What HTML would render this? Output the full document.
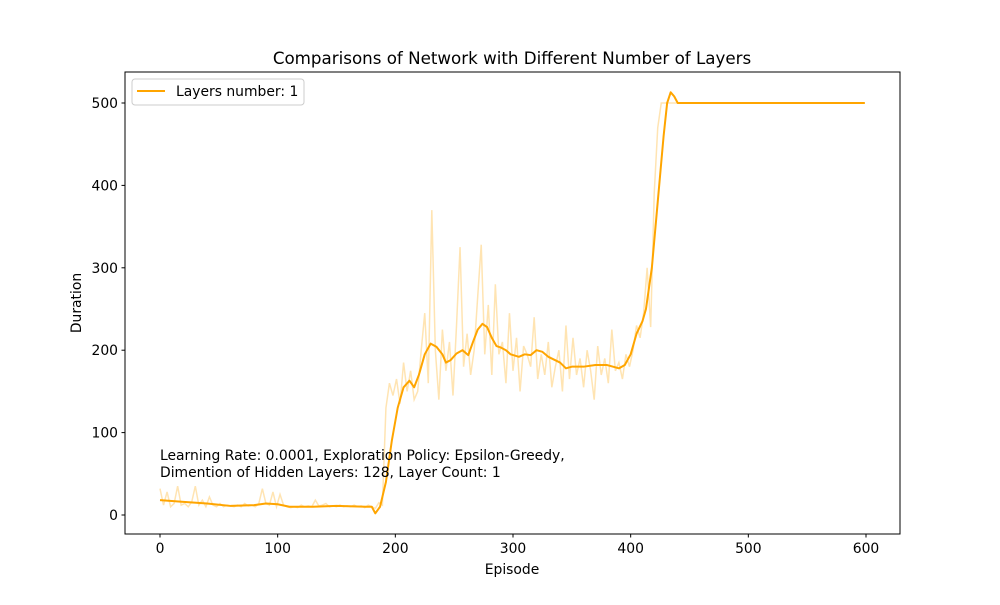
<!DOCTYPE html>
<html><head><meta charset="utf-8"><style>
body{margin:0;background:#fff}
svg text{font-family:"DejaVu Sans","Liberation Sans",sans-serif;fill:#000}
</style></head><body>
<svg id="c" width="1000" height="600" xmlns="http://www.w3.org/2000/svg">
<rect width="1000" height="600" fill="#fff"/>
<text x="512" y="64" font-size="16.7" text-anchor="middle">Comparisons of Network with Different Number of Layers</text>
<g id="plot"></g>
<rect x="125" y="72" width="775" height="462" fill="none" stroke="#000" stroke-width="1"/>
<g id="xt"></g><g id="yt"></g>
<text x="512" y="574" font-size="13.9" text-anchor="middle">Episode</text>
<text transform="translate(81,303) rotate(-90)" font-size="13.9" text-anchor="middle">Duration</text>
<text x="160" y="460" font-size="13.9">Learning Rate: 0.0001, Exploration Policy: Epsilon-Greedy,</text>
<text x="160" y="477" font-size="13.9">Dimention of Hidden Layers: 128, Layer Count: 1</text>
<g>
<rect x="132" y="79" width="172" height="26" rx="3" fill="#fff" fill-opacity="0.8" stroke="#ccc"/>
<line x1="137" y1="91" x2="165" y2="91" stroke="#ffa500" stroke-width="2"/>
<text x="176" y="96" font-size="13.9">Layers number: 1</text>
</g>
</svg>
<script>
const rawEpisodes = [0,3,6,9,12,15,18,21,24,27,30,33,36,39,42,45,48,51,54,57,60,63,66,69,72,75,78,81,84,87,90,93,96,99,102,105,108,111,114,117,120,123,126,129,132,135,138,141,144,147,150,153,156,159,162,165,168,171,174,177,180,183,186,189,192,195,198,201,204,207,210,213,216,219,222,225,228,231,234,237,240,243,246,249,252,255,258,261,264,267,270,273,276,279,282,285,288,291,294,297,300,303,306,309,312,315,318,321,324,327,330,333,336,339,342,345,348,351,354,357,360,363,366,369,372,375,378,381,384,387,390,393,396,399,402,405,408,411,414,417,420,423,426,429,432,435,438,599];
const rawValues = [32,12,28,10,14,35,12,14,10,16,35,12,18,10,22,12,10,14,10,12,11,10,12,10,14,11,12,10,14,32,14,12,28,10,25,12,10,9,10,9,12,10,11,10,18,11,12,14,10,11,10,12,10,11,10,12,10,11,9,12,10,8,15,12,130,160,145,165,135,185,150,175,140,150,200,245,160,370,200,140,225,175,210,145,230,325,180,220,170,200,265,328,195,255,170,280,195,210,160,245,175,215,150,205,195,180,240,165,195,170,210,155,180,200,150,230,165,215,170,190,155,200,175,140,205,170,190,160,225,175,185,165,195,180,200,230,215,245,300,228,390,470,500,500,500,500,500,500];
const smoothEpisodes = [0,20,40,60,80,90,100,110,130,150,175,180,183,187,192,197,202,207,212,216,220,225,230,235,240,243,247,252,257,262,266,270,274,278,282,286,290,294,298,305,310,315,320,325,330,340,345,350,360,370,380,390,395,400,405,410,413,418,423,428,431,434,437,440,599];
const smoothValues = [18,16,14,11,12,14,13,10,10,11,10,10,2,10,40,90,130,155,163,155,170,195,208,204,195,185,188,196,200,194,210,225,232,228,215,205,203,200,195,192,195,194,200,198,192,185,178,180,180,182,182,178,182,195,220,235,250,300,380,460,500,513,508,500,500];
const xTicks = [0,100,200,300,400,500,600];
const yTicks = [0,100,200,300,400,500];
const NS='http://www.w3.org/2000/svg';
const X = e => 160 + e*(866-160)/600;
const Y = v => 515 - v*(515-103)/500;
const plot = document.getElementById('plot');
function mk(t, p){const el=document.createElementNS(NS,t);p.appendChild(el);return el;}
const raw = mk('polyline', plot);
raw.setAttribute('points', rawEpisodes.map((e,i)=>X(e)+','+Y(rawValues[i])).join(' '));
raw.setAttribute('fill','none');raw.setAttribute('stroke','#ffa500');raw.setAttribute('stroke-opacity','0.3');raw.setAttribute('stroke-width','1.5');


const sm = mk('polyline', plot);
sm.setAttribute('points', smoothEpisodes.map((e,i)=>X(e)+','+Y(smoothValues[i])).join(' '));
sm.setAttribute('fill','none');sm.setAttribute('stroke','#ffa500');sm.setAttribute('stroke-width','2');sm.setAttribute('stroke-linejoin','round');


const xt=document.getElementById('xt'), yt=document.getElementById('yt');
xTicks.forEach(t=>{
  const l=mk('line',xt);l.setAttribute('x1',X(t));l.setAttribute('x2',X(t));l.setAttribute('y1',534);l.setAttribute('y2',537.5);l.setAttribute('stroke','#000');
  
  
  const tx=mk('text',xt);tx.setAttribute('x',X(t));tx.setAttribute('y',553);tx.setAttribute('font-size','13.9');tx.setAttribute('text-anchor','middle');tx.textContent=t;
  
  
});
yTicks.forEach(t=>{
  const l=mk('line',yt);l.setAttribute('x1',121.5);l.setAttribute('x2',125);l.setAttribute('y1',Y(t));l.setAttribute('y2',Y(t));l.setAttribute('stroke','#000');
  
  
  const tx=mk('text',yt);tx.setAttribute('x',118);tx.setAttribute('y',Y(t)+5);tx.setAttribute('font-size','13.9');tx.setAttribute('text-anchor','end');tx.textContent=t;
  
  
});
</script>
</body></html>
